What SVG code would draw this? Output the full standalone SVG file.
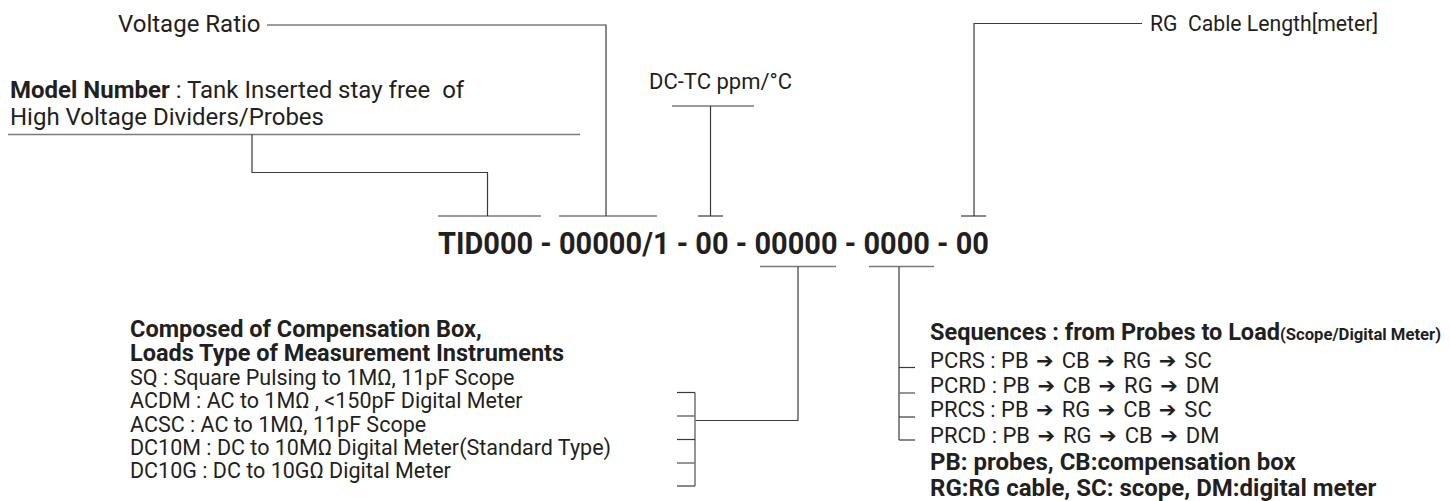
<svg xmlns="http://www.w3.org/2000/svg" width="1450" height="501" viewBox="0 0 1450 501">
<style>
.t{font-family:Roboto,"Liberation Sans",sans-serif;fill:#231f20;white-space:pre}
.s22{font-size:22px}
.s21{font-size:21.5px}
.s24{font-size:24px}
.b{font-weight:700}
.ar{font-family:"DejaVu Sans",sans-serif;font-size:21px;letter-spacing:2.5px}
.ln{stroke:#3a3a3a;stroke-width:1.2;fill:none}
.lg{stroke:#7a7a7a;stroke-width:1.6;fill:none}
</style>
<rect width="1450" height="501" fill="#ffffff"/>
<g id="connectors">
  <polyline class="ln" points="267,25 606,25 606,216"/>
  <line class="ln" x1="559" y1="216" x2="657" y2="216"/>
  <line class="lg" x1="8" y1="134.5" x2="580" y2="134.5"/>
  <polyline class="ln" points="252,134.5 252,172.5 487.5,172.5 487.5,216"/>
  <line class="ln" x1="438" y1="216" x2="541" y2="216"/>
  <line class="lg" x1="672" y1="106" x2="754" y2="106"/>
  <line class="ln" x1="710.5" y1="106" x2="710.5" y2="216"/>
  <line class="ln" x1="698" y1="216" x2="723" y2="216"/>
  <polyline class="ln" points="1142,23.5 974,23.5 974,216"/>
  <line class="ln" x1="961" y1="216" x2="986" y2="216"/>
  <line class="lg" x1="760" y1="266.5" x2="836" y2="266.5"/>
  <polyline class="ln" points="798,266.5 798,420.5 695,420.5"/>
  <line class="lg" x1="695" y1="392.5" x2="695" y2="486"/>
  <line class="ln" x1="677" y1="392.5" x2="695" y2="392.5"/>
  <line class="lg" x1="677" y1="416" x2="695" y2="416"/>
  <line class="ln" x1="677" y1="439.5" x2="695" y2="439.5"/>
  <line class="lg" x1="677" y1="463" x2="695" y2="463"/>
  <line class="ln" x1="677" y1="486" x2="695" y2="486"/>
  <line class="lg" x1="869" y1="266.5" x2="934" y2="266.5"/>
  <line class="ln" x1="899" y1="266.5" x2="899" y2="440"/>
  <line class="ln" x1="899" y1="367.5" x2="915" y2="367.5"/>
  <line class="lg" x1="899" y1="393" x2="915" y2="393"/>
  <line class="ln" x1="899" y1="417" x2="915" y2="417"/>
  <line class="ln" x1="899" y1="440" x2="915" y2="440"/>
</g>
<g id="code">
  <text class="t b" x="438" y="254" font-size="31" textLength="551" lengthAdjust="spacingAndGlyphs">TID000 - 00000/1 - 00 - 00000 - 0000 - 00</text>
</g>
<g id="voltage-ratio">
  <text class="t s24" x="118" y="32">Voltage Ratio</text>
</g>
<g id="model-number">
  <text class="t s24" x="10" y="98"><tspan class="b">Model Number</tspan> : Tank Inserted stay free  of</text>
  <text class="t s24" x="10" y="125">High Voltage Dividers/Probes</text>
</g>
<g id="dc-tc">
  <text class="t s22" x="649" y="89">DC-TC ppm/°C</text>
</g>
<g id="rg-cable-length">
  <text class="t" x="1150" y="31" font-size="22.5" textLength="228" lengthAdjust="spacingAndGlyphs">RG  Cable Length[meter]</text>
</g>
<g id="loads">
  <text class="t b" x="130" y="336.5" font-size="23.5">Composed of Compensation Box,</text>
  <text class="t b" x="130" y="361" font-size="23.5">Loads Type of Measurement Instruments</text>
  <text class="t s21" x="130" y="385">SQ : Square Pulsing to 1MΩ, 11pF Scope</text>
  <text class="t s21" x="130" y="408">ACDM : AC to 1MΩ , &lt;150pF Digital Meter</text>
  <text class="t s21" x="130" y="431.5">ACSC : AC to 1MΩ, 11pF Scope</text>
  <text class="t s21" x="130" y="455">DC10M : DC to 10MΩ Digital Meter(Standard Type)</text>
  <text class="t s21" x="130" y="478">DC10G : DC to 10GΩ Digital Meter</text>
</g>
<g id="sequences">
  <text class="t s24 b" x="930" y="340" textLength="511" lengthAdjust="spacingAndGlyphs">Sequences : from Probes to Load<tspan font-size="17">(Scope/Digital Meter)</tspan></text>
  <text class="t s22" x="930" y="367.5">PCRS : PB <tspan class="ar" dx="2">➔</tspan> CB <tspan class="ar" dx="2">➔</tspan> RG <tspan class="ar" dx="2">➔</tspan> SC</text>
  <text class="t s22" x="930" y="392.5">PCRD : PB <tspan class="ar" dx="2">➔</tspan> CB <tspan class="ar" dx="2">➔</tspan> RG <tspan class="ar" dx="2">➔</tspan> DM</text>
  <text class="t s22" x="930" y="417">PRCS : PB <tspan class="ar" dx="2">➔</tspan> RG <tspan class="ar" dx="2">➔</tspan> CB <tspan class="ar" dx="2">➔</tspan> SC</text>
  <text class="t s22" x="930" y="442.5">PRCD : PB <tspan class="ar" dx="2">➔</tspan> RG <tspan class="ar" dx="2">➔</tspan> CB <tspan class="ar" dx="2">➔</tspan> DM</text>
  <text class="t s24 b" x="930" y="469.5">PB: probes, CB:compensation box</text>
  <text class="t s24 b" x="930" y="496">RG:RG cable, SC: scope, DM:digital meter</text>
</g>
</svg>
